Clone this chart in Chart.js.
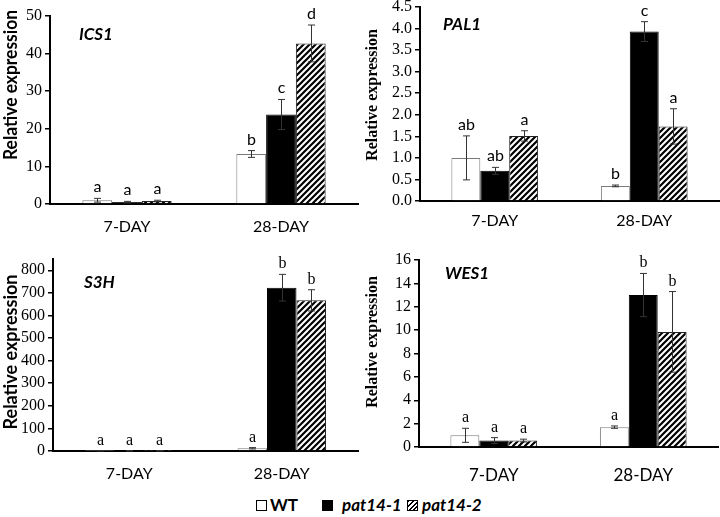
<!DOCTYPE html>
<html>
<head>
<meta charset="utf-8">
<script src="https://cdn.jsdelivr.net/npm/chart.js@4.4.0/dist/chart.umd.min.js"></script>
<style>
body { margin: 0; background: #fff; width: 720px; height: 517px; position: relative; overflow: hidden; }
canvas { position: absolute; }
.lg { position: absolute; top: 495px; font: bold 17px Lato, sans-serif; line-height: 20px; color: #000; }
.lg i { font-style: italic; }
.box { position: absolute; top: 500px; width: 9px; height: 9px; border: 1px solid #000; background: #fff; }
</style>
</head>
<body>
<canvas id="c1" width="360" height="240" style="left:0;top:0"></canvas>
<canvas id="c2" width="360" height="240" style="left:360px;top:0"></canvas>
<canvas id="c3" width="360" height="240" style="left:0;top:245px"></canvas>
<canvas id="c4" width="360" height="240" style="left:360px;top:245px"></canvas>

<div class="box" style="left:256px"></div>
<div class="lg" style="left:270px">WT</div>
<div class="box" style="left:322px;background:#000"></div>
<div class="lg" style="left:342px"><i>pat14-1</i></div>
<div class="box" style="left:407px;background:repeating-linear-gradient(135deg,#000 0 1.4px,#fff 1.4px 3.2px)"></div>
<div class="lg" style="left:422px"><i>pat14-2</i></div>

<script>
var days = ['7-DAY', '28-DAY'];
var lines = ['WT', 'pat14-1', 'pat14-2'];

// ICS1  (rows: WT, pat14-1, pat14-2 ; cols: 7-DAY, 28-DAY)
var ics1Mean = [[1.0, 13.3], [0.5, 23.8], [0.8, 42.7]];
var ics1Err = [[0.5, 0.9], [0.2, 4.0], [0.2, 4.9]];
var ics1Sig = [['a', 'b'], ['a', 'c'], ['a', 'd']];
var ics1Ticks = [0, 10, 20, 30, 40, 50];

// PAL1
var pal1Mean = [[1.0, 0.35], [0.70, 3.93], [1.51, 1.73]];
var pal1Err = [[0.51, 0.02], [0.08, 0.23], [0.12, 0.41]];
var pal1Sig = [['ab', 'b'], ['ab', 'c'], ['a', 'a']];
var pal1Ticks = [0, 0.5, 1.0, 1.5, 2.0, 2.5, 3.0, 3.5, 4.0, 4.5];

// S3H
var s3hMean = [[1, 12], [1, 723], [1, 667]];
var s3hErr = [[0.5, 3], [0.5, 59], [0.5, 47]];
var s3hSig = [['a', 'a'], ['a', 'b'], ['a', 'b']];
var s3hTicks = [0, 100, 200, 300, 400, 500, 600, 700, 800];

// WES1
var wes1Mean = [[1.0, 1.7], [0.55, 13.0], [0.55, 9.85]];
var wes1Err = [[0.6, 0.1], [0.25, 1.85], [0.12, 3.45]];
var wes1Sig = [['a', 'a'], ['a', 'b'], ['a', 'b']];
var wes1Ticks = [0, 2, 4, 6, 8, 10, 12, 14, 16];

function hatch() {
    var c = document.createElement('canvas');
    c.width = 6; c.height = 6;
    var g = c.getContext('2d');
    g.fillStyle = '#fff';
    g.fillRect(0, 0, 6, 6);
    g.strokeStyle = '#000';
    g.lineWidth = 2.2;
    g.beginPath();
    g.moveTo(-1, 7); g.lineTo(7, -1);
    g.moveTo(-1, 1); g.lineTo(1, -1);
    g.moveTo(5, 7); g.lineTo(7, 5);
    g.stroke();
    return g.createPattern(c, 'repeat');
}

var fills = ['#fff', '#000', hatch()];
var edges = ['#7a7a7a', '#000', '#222'];
var serifFam = '"Liberation Serif", "Times New Roman", serif';

function makePanel(id, p) {
    var a = p.area;
    var decor = {
        id: 'decor',
        afterDatasetsDraw: function(chart) {
            var ctx = chart.ctx, y = chart.scales.y;
            // error bars and letters
            chart.data.datasets.forEach(function(ds, i) {
                chart.getDatasetMeta(i).data.forEach(function(bar, j) {
                    var m = ds.data[j], e = ds.errors[j];
                    var x = Math.round(bar.x) + 0.5;
                    var top = y.getPixelForValue(m + e);
                    var bot = y.getPixelForValue(Math.max(m - e, 0));
                    ctx.save();
                    ctx.strokeStyle = '#333';
                    ctx.lineWidth = 1;
                    ctx.beginPath();
                    ctx.moveTo(x, top); ctx.lineTo(x, bot);
                    ctx.moveTo(x - 3.5, top); ctx.lineTo(x + 3.5, top);
                    ctx.moveTo(x - 3.5, bot); ctx.lineTo(x + 3.5, bot);
                    ctx.stroke();
                    ctx.fillStyle = '#000';
                    ctx.font = p.sigFont;
                    ctx.textAlign = 'center';
                    ctx.textBaseline = 'alphabetic';
                    ctx.fillText(ds.sig[j], x, top - 6);
                    ctx.restore();
                });
            });
            // gene name
            ctx.save();
            ctx.fillStyle = '#000';
            ctx.font = 'italic bold 17px Lato, sans-serif';
            ctx.textBaseline = 'middle';
            ctx.fillText(p.gene, p.geneX, p.geneY);
            // y title
            ctx.translate(p.titleX, p.titleY);
            ctx.rotate(-Math.PI / 2);
            ctx.font = p.titleFont;
            ctx.textAlign = 'center';
            ctx.fillText('Relative expression', 0, 0, p.titleW);
            ctx.restore();
        }
    };

    return new Chart(document.getElementById(id), {
        type: 'bar',
        data: {
            labels: days,
            datasets: lines.map(function(name, i) {
                return {
                    label: name,
                    data: p.mean[i],
                    errors: p.err[i],
                    sig: p.sig[i],
                    backgroundColor: fills[i],
                    borderColor: edges[i],
                    borderWidth: 1,
                    categoryPercentage: 0.58,
                    barPercentage: 1
                };
            })
        },
        options: {
            responsive: false,
            animation: false,
            layout: {
                autoPadding: false,
                padding: { left: 0, right: 360 - a.right, top: a.top, bottom: 0 }
            },
            plugins: { legend: { display: false }, tooltip: { enabled: false } },
            scales: {
                x: {
                    grid: { display: false, drawTicks: false },
                    border: { display: true, color: '#000', width: 2 },
                    ticks: { color: '#000', font: p.catFont, padding: p.catPad, maxRotation: 0 },
                    afterFit: function(s) {
                        s.height = 240 - a.bottom;
                        s.paddingLeft = 0; s.paddingRight = 0;
                    }
                },
                y: {
                    min: 0,
                    max: p.max,
                    grid: { drawOnChartArea: false, drawTicks: true, tickLength: 5, color: '#000', lineWidth: 1.5 },
                    border: { display: true, color: '#000', width: 2 },
                    ticks: {
                        color: '#000',
                        autoSkip: false,
                        font: { family: serifFam, size: 16 },
                        padding: 3,
                        callback: function(v) { return v.toFixed(p.dec); }
                    },
                    afterBuildTicks: function(s) { s.ticks = p.ticks.map(function(v) { return { value: v }; }); },
                    afterFit: function(s) {
                        s.width = a.left;
                        s.paddingTop = 0; s.paddingBottom = 0;
                    }
                }
            }
        },
        plugins: [decor]
    });
}

var sansSig = '16px Lato, sans-serif';
var serifSig = '16px ' + serifFam;

makePanel('c1', {
    mean: ics1Mean, err: ics1Err, sig: ics1Sig, ticks: ics1Ticks, max: 50, dec: 0,
    area: { left: 50, right: 358, top: 16, bottom: 204 },
    gene: 'ICS1', geneX: 79, geneY: 35,
    titleFont: 'bold 18px Lato, sans-serif', titleX: 11, titleY: 85, titleW: 150,
    sigFont: sansSig, catFont: { family: 'Lato', size: 16 }, catPad: 13
});
makePanel('c2', {
    mean: pal1Mean, err: pal1Err, sig: pal1Sig, ticks: pal1Ticks, max: 4.5, dec: 1,
    area: { left: 60, right: 359, top: 7, bottom: 201 },
    gene: 'PAL1', geneX: 83, geneY: 25,
    titleFont: 'bold 16px ' + serifFam, titleX: 13, titleY: 95, titleW: 134,
    sigFont: sansSig, catFont: { family: 'Lato', size: 16 }, catPad: 10
});
makePanel('c3', {
    mean: s3hMean, err: s3hErr, sig: s3hSig, ticks: s3hTicks, max: 850, dec: 0,
    area: { left: 53, right: 358, top: 14, bottom: 206 },
    gene: 'S3H', geneX: 84, geneY: 38,
    titleFont: 'bold 18px Lato, sans-serif', titleX: 11, titleY: 107, titleW: 157,
    sigFont: serifSig, catFont: { family: 'Lato', size: 16 }, catPad: 13
});
makePanel('c4', {
    mean: wes1Mean, err: wes1Err, sig: wes1Sig, ticks: wes1Ticks, max: 16, dec: 0,
    area: { left: 59, right: 358, top: 15, bottom: 202 },
    gene: 'WES1', geneX: 85, geneY: 29,
    titleFont: 'bold 16px ' + serifFam, titleX: 13, titleY: 97, titleW: 135,
    sigFont: serifSig, catFont: { family: 'Lato', size: 17 }, catPad: 18
});
</script>
</body>
</html>
